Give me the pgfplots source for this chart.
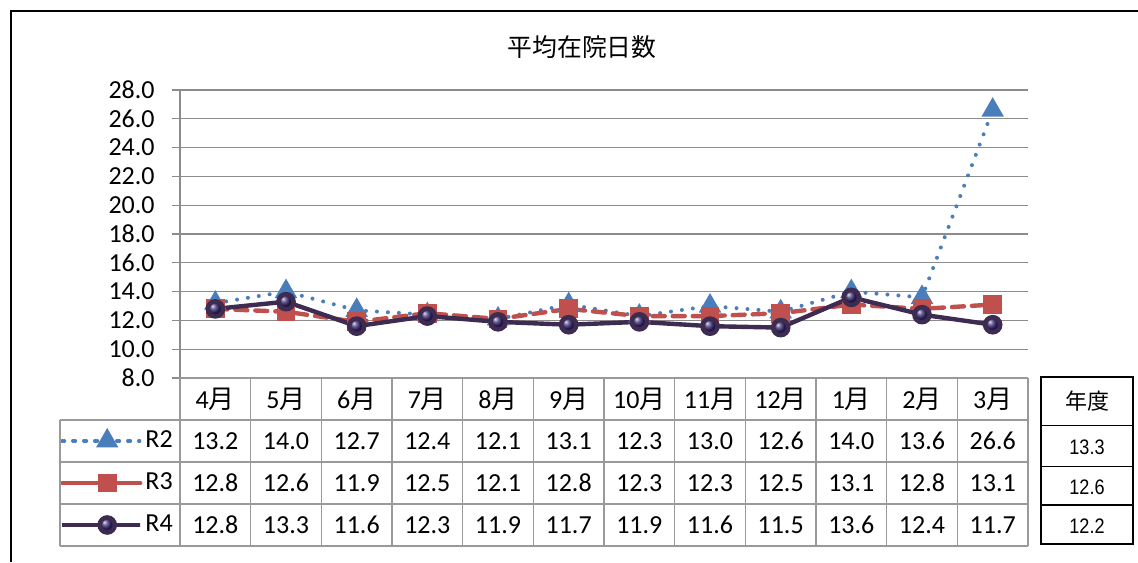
\documentclass[border=0pt]{standalone}
\usepackage{pgfplots}
\pgfplotsset{compat=1.18}
\usepackage{pgfplotstable}
\usepackage{fontspec}
\usepackage{graphicx}
\setmainfont{Carlito}
\newfontfamily\cjk{Noto Sans CJK JP}
\newfontfamily\arl{Liberation Sans}
\definecolor{rtwo}{HTML}{4A7EBB}
\definecolor{rthree}{HTML}{C0504D}
\definecolor{rfour}{HTML}{3D2B52}
\definecolor{gridgray}{HTML}{8C8C8C}
\definecolor{tabgray}{HTML}{9A9A9A}

\pgfkeys{/pgf/number format/.cd,fixed,fixed zerofill,precision=1,assume math mode=true}

% 月別の平均在院日数 (4月=0 ... 3月=11)
\pgfplotstableread{
x  R2   R3   R4
0  13.2 12.8 12.8
1  14.0 12.6 13.3
2  12.7 11.9 11.6
3  12.4 12.5 12.3
4  12.1 12.1 11.9
5  13.1 12.8 11.7
6  12.3 12.3 11.9
7  13.0 12.3 11.6
8  12.6 12.5 11.5
9  14.0 13.1 13.6
10 13.6 12.8 12.4
11 26.6 13.1 11.7
}\data

\begin{document}
\begin{tikzpicture}[font=\fontsize{13}{15}\selectfont]
\begin{axis}[
  at={(90pt,92pt)}, anchor=south west,
  scale only axis, width=424pt, height=144pt,
  xmin=-0.5, xmax=11.5, ymin=8, ymax=28,
  xtick=\empty,
  ytick={8,10,...,28},
  axis x line=bottom, axis y line=left,
  axis line style={gridgray, line width=0.6pt, -},
  ymajorgrids, grid style={gridgray, line width=0.6pt},
  tick style={gridgray, line width=0.6pt},
  tick align=outside, major tick length=4pt,
  yticklabel style={font=\fontsize{13}{15}\selectfont, inner sep=0pt, xshift=-8.5pt},
  clip=false,
  legend style={at={(-0.1415,-0.1458)}, anchor=north west, draw=none, fill=none,
    inner sep=0pt, outer sep=0pt, row sep=0pt, column sep=1.5pt,
    nodes={inner sep=0pt, minimum height=21pt, anchor=west},
    font=\fontsize{13}{15}\selectfont},
  legend cell align=left,
  legend image code/.code={
    \path (0pt,0pt) rectangle (39pt,0pt);
    \draw[mark repeat=2,mark phase=2,#1] plot coordinates {(5.5pt,0pt)(22.5pt,0pt)(39pt,0pt)};},
]
\addplot[rtwo, line width=2pt, dash pattern=on 0pt off 5.5pt, line cap=round,
  mark=triangle*, mark size=4.5pt, mark options={solid, fill=rtwo, draw=rtwo}]
  table[x=x, y=R2] {\data};
\addlegendentry{R2}
\addplot[rthree, line width=2.2pt, dash pattern=on 6pt off 4pt, line cap=round,
  mark=square*, mark size=3.6pt, mark options={solid, fill=rthree, draw=rthree}]
  table[x=x, y=R3] {\data};
\addlegendentry{R3}
\addplot[rfour, line width=2.2pt, mark=ball, mark size=3.8pt,
  mark options={ball color=rfour!85!blue}]
  table[x=x, y=R4] {\data};
\addlegendentry{R4}
\end{axis}

% outer frame
\draw[line width=1pt] (5.5pt,0pt) -- (5.5pt,275.5pt) -- (569pt,275.5pt);
% title
\node[font=\cjk\fontsize{12.4}{14}\selectfont] at (291pt,257.5pt) {平均在院日数};

% data table grid
\draw[tabgray, line width=0.8pt]
  (90pt,92pt) -- (514pt,92pt)
  (30pt,71pt) -- (514pt,71pt)
  (30pt,50pt) -- (514pt,50pt)
  (30pt,29pt) -- (514pt,29pt)
  (30pt,8pt) -- (514pt,8pt)
  (30pt,71pt) -- (30pt,8pt);
\foreach \k in {0,...,12} {
  \pgfmathsetmacro\vx{90+35.33333*\k}
  \draw[tabgray, line width=0.8pt] (\vx pt,92pt) -- (\vx pt,8pt);
}
\foreach \m [count=\i from 0] in {4,5,6,7,8,9,10,11,12,1,2,3} {
  \pgfmathsetmacro\cx{90+35.33333*(\i+0.5)}
  \node at (\cx pt,81.5pt) {\m{\cjk 月}};
  \pgfplotstablegetelem{\i}{R2}\of\data
  \node at (\cx pt,60.5pt) {\pgfmathprintnumber{\pgfplotsretval}};
  \pgfplotstablegetelem{\i}{R3}\of\data
  \node at (\cx pt,39.5pt) {\pgfmathprintnumber{\pgfplotsretval}};
  \pgfplotstablegetelem{\i}{R4}\of\data
  \node at (\cx pt,18.5pt) {\pgfmathprintnumber{\pgfplotsretval}};
}

% 年度 box
\draw[line width=0.6pt] (520.5pt,9pt) rectangle (566.5pt,92.5pt);
\draw[line width=0.6pt] (520.5pt,68.2pt) -- (566.5pt,68.2pt)
  (520.5pt,47.7pt) -- (566.5pt,47.7pt) (520.5pt,28.5pt) -- (566.5pt,28.5pt);
\node[font=\cjk\fontsize{11}{13}\selectfont] at (543.5pt,80.5pt) {年度};
\node[font=\arl\fontsize{10.5}{12}\selectfont] at (543.5pt,57.5pt) {\scalebox{0.86}[1]{13.3}};
\node[font=\arl\fontsize{10.5}{12}\selectfont] at (543.5pt,37.5pt) {\scalebox{0.86}[1]{12.6}};
\node[font=\arl\fontsize{10.5}{12}\selectfont] at (543.5pt,18pt) {\scalebox{0.86}[1]{12.2}};

\pgfresetboundingbox
\useasboundingbox (0pt,0pt) rectangle (569pt,281pt);
\end{tikzpicture}
\end{document}
